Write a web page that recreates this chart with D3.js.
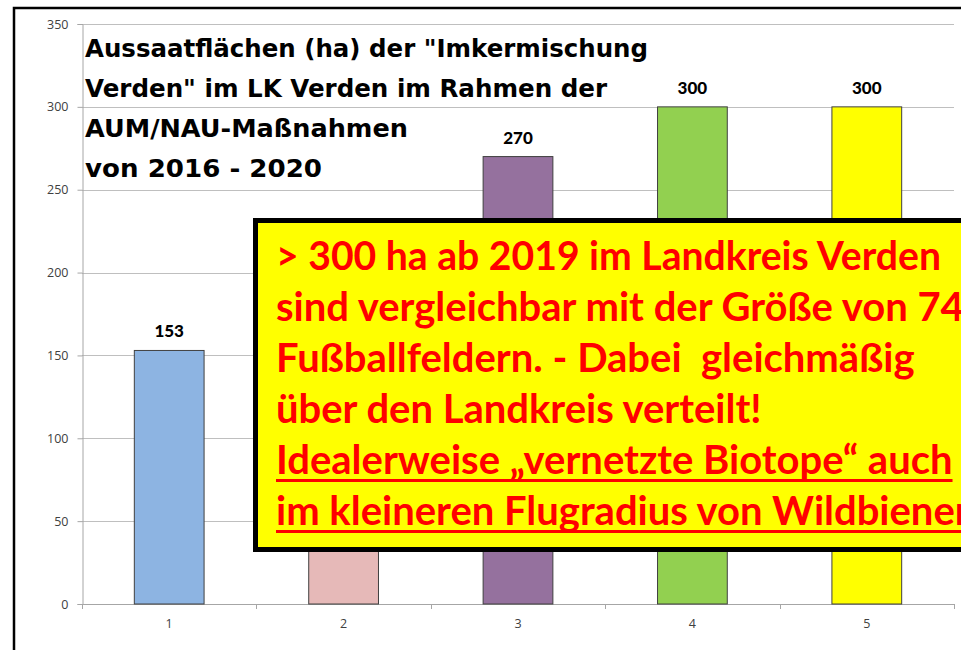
<!DOCTYPE html>
<html>
<head>
<meta charset="utf-8">
<script src="https://cdn.jsdelivr.net/npm/d3@7"></script>
<style>
  html, body { margin: 0; padding: 0; background: #fff; overflow: hidden; }
  svg { display: block; }
  .note { white-space: pre; }
</style>
</head>
<body>
<svg id="chart" width="961" height="650"></svg>
<script>
// ---- data ----
const categories = ["1", "2", "3", "4", "5"];
const values = [153, 200, 270, 300, 300];
const labelShown = [true, false, true, true, true]; // bar 2 label is hidden behind the note box
const barColors = ["#8DB4E2", "#E6B9B8", "#95719E", "#92D050", "#FFFF00"];
const yTicks = [0, 50, 100, 150, 200, 250, 300, 350];
const titleLines = [
  "Aussaatflächen (ha) der \"Imkermischung",
  "Verden\" im LK Verden im Rahmen der",
  "AUM/NAU-Maßnahmen",
  "von 2016 - 2020"
];
const titleWidths = [563, 522, 323, 237];
const noteLines = [
  "> 300 ha ab 2019 im Landkreis Verden",
  "sind vergleichbar mit der Größe von 74",
  "Fußballfeldern. - Dabei  gleichmäßig",
  "über den Landkreis verteilt!",
  "Idealerweise „vernetzte Biotope“ auch",
  "im kleineren Flugradius von Wildbienen"
];
const noteUnderlined = [false, false, false, false, true, true];

// ---- layout ----
const svg = d3.select("#chart");
const plot = { left: 82, right: 954, top: 24, bottom: 604 };

const x = d3.scaleBand().domain(categories)
  .range([plot.left, plot.right]).paddingInner(0.6).paddingOuter(0.3);
const y = d3.scaleLinear().domain([0, 350]).range([plot.bottom, plot.top]);

// outer chart frame
svg.append("rect")
  .attr("x", 14).attr("y", 8).attr("width", 1000).attr("height", 700)
  .attr("fill", "#fff").attr("stroke", "#000").attr("stroke-width", 2.5);

// gridlines
svg.append("g").selectAll("line").data(yTicks.filter(d => d > 0)).join("line")
  .attr("x1", plot.left).attr("x2", plot.right)
  .attr("y1", d => Math.round(y(d)) + 0.5).attr("y2", d => Math.round(y(d)) + 0.5)
  .attr("stroke", "#BFBFBF").attr("stroke-width", 1);

// y axis
const yAxis = svg.append("g")
  .attr("transform", `translate(${plot.left + 0.5},0)`)
  .call(d3.axisLeft(y).tickValues(yTicks).tickSize(5).tickPadding(9));
yAxis.select(".domain").attr("stroke", "#A6A6A6");
yAxis.selectAll(".tick line").attr("stroke", "#A6A6A6");
yAxis.selectAll(".tick text")
  .attr("font-family", "'Open Sans', sans-serif").attr("font-size", 12.5)
  .attr("fill", "#404040");

// x axis (labels at band centers, ticks at band boundaries)
const step = x.step();
const xAxis = svg.append("g")
  .attr("transform", `translate(0,${plot.bottom + 0.5})`)
  .call(d3.axisBottom(x).tickSize(0).tickPadding(15));
xAxis.select(".domain").remove();
xAxis.selectAll(".tick text")
  .attr("font-family", "'Open Sans', sans-serif").attr("font-size", 12.5)
  .attr("fill", "#404040");
svg.append("line")
  .attr("x1", plot.left).attr("x2", plot.right)
  .attr("y1", plot.bottom + 0.5).attr("y2", plot.bottom + 0.5)
  .attr("stroke", "#A6A6A6");
svg.append("g").selectAll("line").data(d3.range(categories.length + 1)).join("line")
  .attr("x1", i => Math.round(plot.left + i * step) + 0.5)
  .attr("x2", i => Math.round(plot.left + i * step) + 0.5)
  .attr("y1", plot.bottom).attr("y2", plot.bottom + 5)
  .attr("stroke", "#A6A6A6");

// bars
svg.append("g").selectAll("rect").data(values).join("rect")
  .attr("x", (d, i) => x(categories[i]))
  .attr("y", d => y(d))
  .attr("width", x.bandwidth())
  .attr("height", d => y(0) - y(d))
  .attr("fill", (d, i) => barColors[i])
  .attr("stroke", "#404040").attr("stroke-width", 1);

// value labels
const labelData = values.map((v, i) => ({ v, c: categories[i], show: labelShown[i] }))
  .filter(d => d.show);
svg.append("g").selectAll("text").data(labelData).join("text")
  .attr("x", d => x(d.c) + x.bandwidth() / 2)
  .attr("y", d => y(d.v) - 13)
  .attr("text-anchor", "middle")
  .attr("font-family", "Lato, 'Open Sans', sans-serif")
  .attr("font-weight", "900").attr("font-size", 17)
  .attr("fill", "#000")
  .text(d => d.v);

// title
svg.append("g").selectAll("text").data(titleLines).join("text")
  .attr("x", 85).attr("y", (d, i) => 57 + i * 40)
  .attr("font-family", "'DejaVu Sans', sans-serif")
  .attr("font-weight", "bold").attr("font-size", 25)
  .attr("fill", "#000")
  .attr("textLength", (d, i) => titleWidths[i])
  .attr("lengthAdjust", "spacingAndGlyphs")
  .text(d => d);

// annotation box
svg.append("rect")
  .attr("x", 255.5).attr("y", 220.5).attr("width", 800).attr("height", 329)
  .attr("fill", "#FFFF00").attr("stroke", "#000").attr("stroke-width", 5);

const noteG = svg.append("g");
const noteText = noteG.selectAll("text").data(noteLines).join("text")
  .attr("class", "note")
  .attr("x", 276).attr("y", (d, i) => 270 + i * 51)
  .attr("font-family", "Lato, 'Open Sans', sans-serif")
  .attr("font-weight", "bold").attr("font-size", 36)
  .attr("fill", "#FF0000")
  .text(d => d);
// fit font size: other lines are ~2% wider relative to line 1 in the reference font
const w0 = noteText.nodes()[0].getComputedTextLength();
const fs = 36 * 665 / w0 * 1.022;
noteText.attr("font-size", fs);
noteText.filter((d, i) => i === 0)
  .attr("textLength", 665).attr("lengthAdjust", "spacingAndGlyphs");
noteText.each(function (d, i) {
  if (noteUnderlined[i]) {
    const w = this.getComputedTextLength();
    noteG.append("rect")
      .attr("x", 276).attr("y", 270 + i * 51 + 5)
      .attr("width", w).attr("height", 3)
      .attr("fill", "#FF0000");
  }
});
</script>
</body>
</html>
